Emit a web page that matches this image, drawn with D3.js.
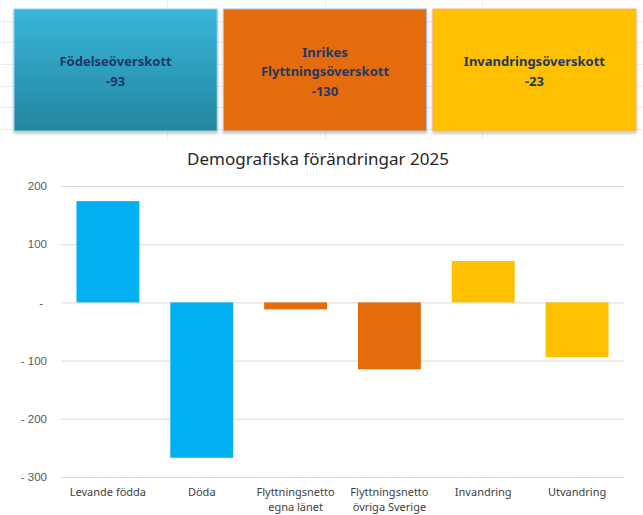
<!DOCTYPE html>
<html lang="sv">
<head>
<meta charset="UTF-8">
<title>Demografiska förändringar 2025</title>
<style>
  body { margin: 0; background: #fff; }
  svg { display: block; font-family: "Noto Sans", "Open Sans", sans-serif; }
  .grid line { stroke: #d9d9d9; }
  .tick text { fill: #595959; font-size: 11.5px; }
  .card-text { fill: #1f3864; font-weight: bold; font-size: 13px; }
</style>
</head>
<body>
<svg id="chart" width="643" height="515"></svg>

<script src="https://d3js.org/d3.v7.min.js"></script>
<script>
  // data
  const categories = [
    ["Levande födda"],
    ["Döda"],
    ["Flyttningsnetto", "egna länet"],
    ["Flyttningsnetto", "övriga Sverige"],
    ["Invandring"],
    ["Utvandring"]
  ];
  const values = [174, -267, -12, -115, 71, -94];
  const yTicks = [200, 100, 0, -100, -200, -300];

  const cardTitles = [
    ["Födelseöverskott"],
    ["Inrikes", "Flyttningsöverskott"],
    ["Invandringsöverskott"]
  ];
  const cardValues = [-93, -130, -23];

  const barColors = ["#00b0f0", "#00b0f0", "#e46c0a", "#e46c0a", "#ffc000", "#ffc000"];
  const cardFills = ["url(#blueGrad)", "#e46c0a", "#ffc000"];
  const cardStrokes = ["#8fd3ea", "#9dc3e6", "#f4b183"];

  const svg = d3.select("#chart");

  // sheet grid behind the cards
  const sheet = svg.append("g");
  for (let y = 20.5; y < 140; y += 21.7) {
    sheet.append("line").attr("x1", 0).attr("x2", 643)
      .attr("y1", Math.round(y) + 0.5).attr("y2", Math.round(y) + 0.5)
      .attr("stroke", "#eeeeee");
  }
  [167, 325, 482].forEach(x => {
    sheet.append("line").attr("x1", x + 0.5).attr("x2", x + 0.5)
      .attr("y1", 0).attr("y2", 140).attr("stroke", "#eeeeee");
  });

  const defs = svg.append("defs");
  const grad = defs.append("linearGradient").attr("id", "blueGrad")
    .attr("x1", 0).attr("y1", 0).attr("x2", 0).attr("y2", 1);
  grad.append("stop").attr("offset", "0%").attr("stop-color", "#38b6da");
  grad.append("stop").attr("offset", "100%").attr("stop-color", "#24869f");
  const shadow = defs.append("filter").attr("id", "shadow")
    .attr("x", "-5%").attr("y", "-5%").attr("width", "110%").attr("height", "115%");
  shadow.append("feDropShadow").attr("dx", 0).attr("dy", 2).attr("stdDeviation", 1.5)
    .attr("flood-color", "#000").attr("flood-opacity", 0.25);

  // cards
  const cardX = d3.scaleBand().domain(d3.range(cardTitles.length))
    .range([14, 636]).paddingInner(0.03);
  const cards = svg.selectAll(".card").data(cardTitles).enter()
    .append("g").attr("class", "card")
    .attr("transform", (d, i) => `translate(${cardX(i)},9)`);

  cards.append("rect")
    .attr("width", cardX.bandwidth()).attr("height", 122)
    .attr("fill", (d, i) => cardFills[i])
    .attr("stroke", (d, i) => cardStrokes[i])
    .attr("filter", "url(#shadow)");

  cards.each(function (d, i) {
    const lines = d.concat([String(cardValues[i])]);
    const lh = 19.5;
    const startY = 62 - (lines.length - 1) * lh / 2 + 5;
    const t = d3.select(this).append("text").attr("class", "card-text")
      .attr("text-anchor", "middle");
    lines.forEach((l, k) => {
      t.append("tspan").attr("x", cardX.bandwidth() / 2)
        .attr("y", startY + k * lh).text(l);
    });
  });

  // title
  svg.append("text")
    .attr("x", 318).attr("y", 165)
    .attr("text-anchor", "middle")
    .attr("font-size", "17px").attr("fill", "#262626")
    .text("Demografiska förändringar 2025");

  // chart
  const left = 61, right = 624;
  const x = d3.scaleBand().domain(d3.range(categories.length))
    .range([left, right]).paddingInner(0.33).paddingOuter(0.165);
  const y = d3.scaleLinear().domain([-300, 200]).range([477, 186]);

  const fmt = d => d === 0 ? "-" : d < 0 ? "- " + Math.abs(d) : String(d);

  const yAxis = d3.axisLeft(y).tickValues(yTicks).tickFormat(fmt)
    .tickSize(-(right - left)).tickPadding(14);
  const gy = svg.append("g").attr("class", "grid")
    .attr("transform", `translate(${left},0)`).call(yAxis);
  gy.select(".domain").remove();
  gy.selectAll(".tick text").attr("dx", d => d === 0 ? -4 : 0);

  svg.selectAll(".bar").data(values).enter()
    .append("rect").attr("class", "bar")
    .attr("x", (d, i) => x(i))
    .attr("width", x.bandwidth())
    .attr("y", d => y(Math.max(0, d)))
    .attr("height", d => Math.abs(y(d) - y(0)))
    .attr("fill", (d, i) => barColors[i]);

  // category labels
  const cat = svg.selectAll(".cat").data(categories).enter()
    .append("text").attr("class", "cat")
    .attr("text-anchor", "middle")
    .attr("font-size", "11px").attr("fill", "#404040");
  cat.each(function (d, i) {
    d.forEach((l, k) => {
      d3.select(this).append("tspan")
        .attr("x", x(i) + x.bandwidth() / 2)
        .attr("y", 496 + k * 15).text(l);
    });
  });
</script>
</body>
</html>
